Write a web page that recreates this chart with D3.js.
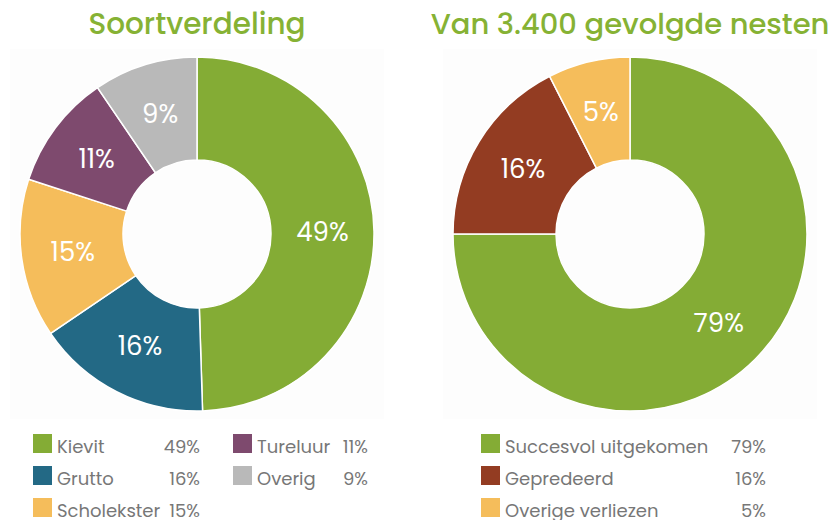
<!DOCTYPE html>
<html>
<head>
<meta charset="utf-8">
<script src="https://cdn.jsdelivr.net/npm/d3@7"></script>
<style>
  body { margin: 0; background: #fff; }
  svg { display: block; font-family: Poppins, "Open Sans", Lato, sans-serif; }
</style>
</head>
<body>
<svg width="840" height="520"></svg>
<script>
var svg = d3.select("svg");

// left chart: species split
var soorten = ["Kievit", "Grutto", "Scholekster", "Tureluur", "Overig"];
var soortPct = [49, 16, 15, 11, 9];
var soortArc = [49.5, 16, 14.5, 10.5, 9.5];   // slice sizes as drawn
var soortKleur = ["#84ac35", "#236985", "#f5bd5b", "#7e4a6e", "#b9b9b9"];

// right chart: nest outcome
var nesten = ["Succesvol uitgekomen", "Gepredeerd", "Overige verliezen"];
var nestPct = [79, 16, 5];
var nestArc = [75, 17.5, 7.5];                // slice sizes as drawn
var nestKleur = ["#84ac35", "#933c22", "#f5bd5b"];

var groen = "#86b234";

function donut(cx, cy, titel, titelSize, namen, pct, arcs, kleuren, legend) {
  var g = svg.append("g");

  g.append("rect")
    .attr("x", cx - 187).attr("y", cy - 185)
    .attr("width", 374).attr("height", 370)
    .attr("fill", "#fdfdfd");

  g.append("text")
    .attr("x", cx).attr("y", 34)
    .attr("text-anchor", "middle")
    .attr("fill", groen)
    .attr("font-size", titelSize)
    .attr("font-weight", 500)
    .text(titel);

  var pie = d3.pie().sort(null).value(function(d) { return d; });
  var arc = d3.arc().innerRadius(74).outerRadius(177);
  var data = pie(arcs);

  var p = g.append("g").attr("transform", "translate(" + cx + "," + cy + ")");
  p.selectAll("path")
    .data(data)
    .enter().append("path")
    .attr("d", arc)
    .attr("fill", function(d, i) { return kleuren[i]; })
    .attr("stroke", "#fff")
    .attr("stroke-width", 1.5);

  p.selectAll("text")
    .data(data)
    .enter().append("text")
    .attr("transform", function(d) { return "translate(" + arc.centroid(d) + ")"; })
    .attr("text-anchor", "middle")
    .attr("dy", "0.35em")
    .attr("fill", "#fff")
    .attr("font-size", 26)
    .text(function(d, i) { return pct[i] + "%"; });

  // legend
  var rows = g.selectAll(".lg")
    .data(namen)
    .enter().append("g")
    .attr("class", "lg")
    .attr("transform", function(d, i) {
      var c = legend.cols[i];
      return "translate(" + c[0] + "," + (434 + c[1] * 32) + ")";
    });

  rows.append("rect")
    .attr("width", 19).attr("height", 19)
    .attr("fill", function(d, i) { return kleuren[i]; });

  rows.append("text")
    .attr("x", 24).attr("y", 18.5)
    .attr("fill", "#777")
    .attr("font-size", 18)
    .text(function(d) { return d; });

  rows.append("text")
    .attr("x", function(d, i) { return legend.pctX[i]; }).attr("y", 18.5)
    .attr("text-anchor", "end")
    .attr("fill", "#777")
    .attr("font-size", 18)
    .text(function(d, i) { return pct[i] + "%"; });
}

donut(197, 234, "Soortverdeling", 29.5, soorten, soortPct, soortArc, soortKleur, {
  cols: [[33, 0], [33, 1], [33, 2], [233, 0], [233, 1]],
  pctX: [167, 167, 167, 135, 135]
});

donut(630, 234, "Van 3.400 gevolgde nesten", 29, nesten, nestPct, nestArc, nestKleur, {
  cols: [[481, 0], [481, 1], [481, 2]],
  pctX: [285, 285, 285]
});
</script>
</body>
</html>
